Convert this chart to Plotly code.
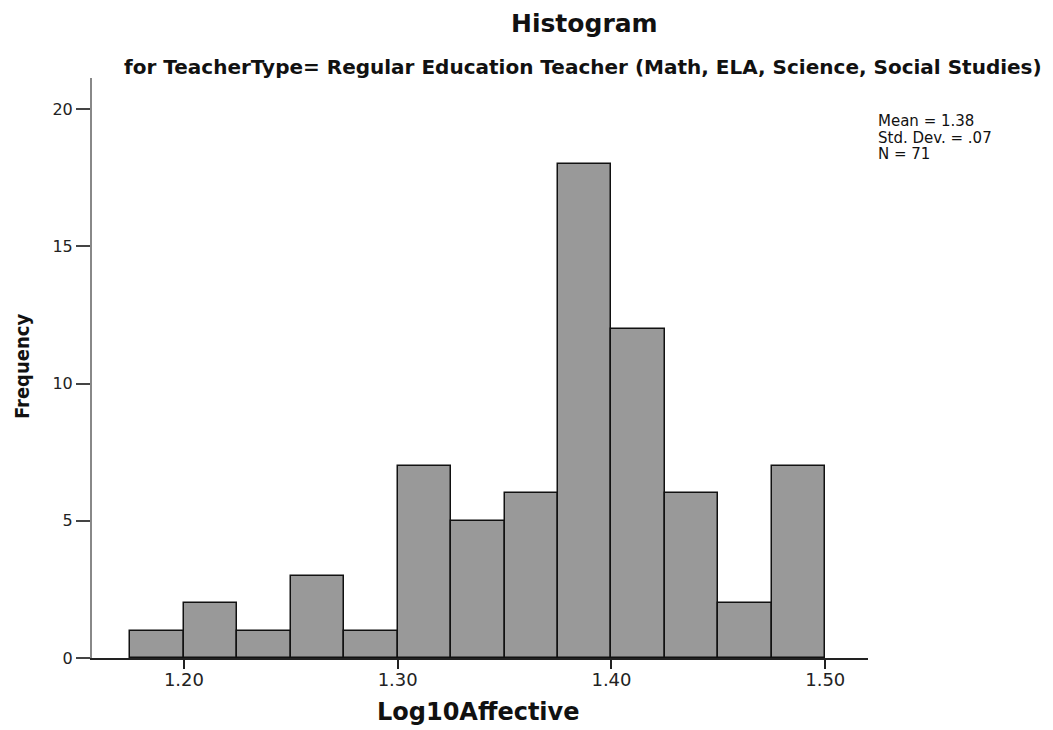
import plotly.graph_objects as go

bin_left = [1.175, 1.200, 1.225, 1.250, 1.275, 1.300, 1.325, 1.350, 1.375, 1.400, 1.425, 1.450, 1.475]
counts = [1, 2, 1, 3, 1, 7, 5, 6, 18, 12, 6, 2, 7]
bin_width = 0.025
x_ticks = [1.20, 1.30, 1.40, 1.50]
x_ticklabels = ["1.20", "1.30", "1.40", "1.50"]
y_ticks = [0, 5, 10, 15, 20]
stats_lines = ["Mean = 1.38", "Std. Dev. = .07", "N = 71"]

centers = [b + bin_width / 2 for b in bin_left]

OFF = 8  # page body offset
W, H = 1053, 730
L, T = 92 - OFF, 78 - OFF
RIGHT, BOTTOM = 868 - OFF, 658 - OFF
R, B = W - RIGHT, H - BOTTOM
pw = RIGHT - L
ph = BOTTOM - T

def px(xs):
    return (xs - OFF - L) / pw

def py(ys):
    return (BOTTOM - (ys - OFF)) / ph

cond = "DejaVu Sans Condensed, Liberation Sans Narrow, DejaVu Sans, sans-serif"
plain = "DejaVu Sans, Verdana, sans-serif"

fig = go.Figure()
fig.add_trace(go.Bar(
    x=centers, y=counts, width=[bin_width] * len(counts),
    marker=dict(color="#999999", line=dict(color="#111111", width=1.5)),
    showlegend=False, hoverinfo="x+y",
))

annotations = [
    dict(text="<b>Histogram</b>", xref="paper", yref="paper", x=px(584), y=py(24),
         xanchor="center", yanchor="middle", showarrow=False,
         font=dict(family=plain, size=25, color="#111111")),
    dict(text="<b>for TeacherType= Regular Education Teacher (Math, ELA, Science, Social Studies)</b>",
         xref="paper", yref="paper", x=px(583), y=py(67),
         xanchor="center", yanchor="middle", showarrow=False,
         font=dict(family=plain, size=20, color="#111111")),
    dict(text="<b>Log10Affective</b>", xref="paper", yref="paper", x=px(478), y=py(712),
         xanchor="center", yanchor="middle", showarrow=False,
         font=dict(family=plain, size=24, color="#111111")),
    dict(text="<b>Frequency</b>", xref="paper", yref="paper", x=px(22), y=py(367),
         xanchor="center", yanchor="middle", showarrow=False, textangle=-90,
         font=dict(family=cond, size=20, color="#111111")),
]
for i, line in enumerate(stats_lines):
    annotations.append(dict(text=line, xref="paper", yref="paper", x=px(877), y=py(121 + 16.5 * i),
                            xanchor="left", yanchor="middle", align="left", showarrow=False,
                            height=16, borderpad=0,
                            font=dict(family=plain, size=15, color="#111111")))

fig.update_layout(
    width=W, height=H,
    margin=dict(l=L, r=R, t=T, b=B),
    plot_bgcolor="white", paper_bgcolor="white",
    bargap=0,
    xaxis=dict(
        range=[1.157, 1.520], tickvals=x_ticks, ticktext=x_ticklabels,
        showgrid=False, zeroline=False, showline=True, linecolor="#222222", linewidth=1.5,
        ticks="outside", ticklen=9, tickcolor="#222222", tickwidth=1.5,
        ticklabelstandoff=-4,
        tickfont=dict(family=plain, size=18, color="#222222"),
        automargin=False,
    ),
    yaxis=dict(
        range=[0, 21.13], tickvals=y_ticks,
        showgrid=False, zeroline=False, showline=True, linecolor="#888888", linewidth=2,
        ticks="outside", ticklen=14, tickcolor="#444444", tickwidth=1.5,
        tickfont=dict(family=plain, size=16, color="#222222"),
        automargin=False,
    ),
    annotations=annotations,
)

fig.write_html("out.html")
